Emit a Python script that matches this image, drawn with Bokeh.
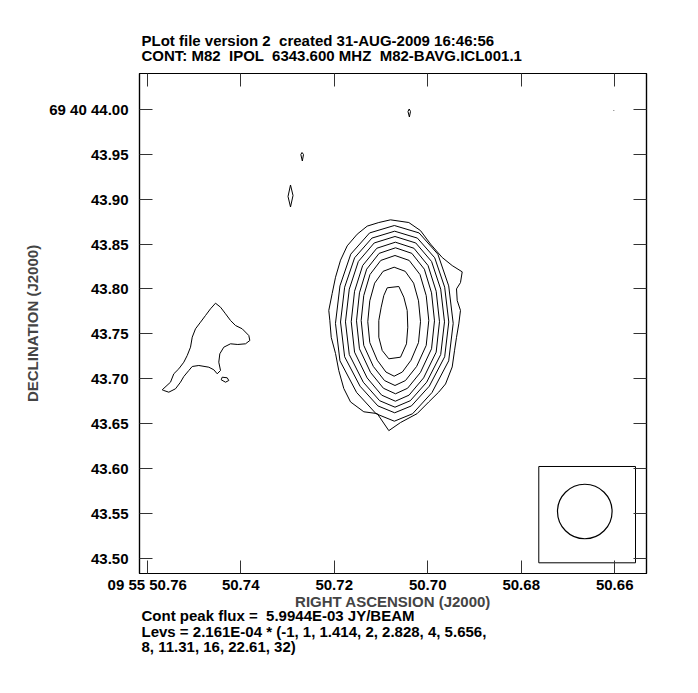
from bokeh.plotting import figure
from bokeh.models import Range1d, LinearAxis, FixedTicker, CustomJSTickFormatter, Title
from bokeh.embed import file_html
from bokeh.resources import INLINE

# ---------------- header / footer text values ----------------
PLOT_VERSION = 2
CREATED = "31-AUG-2009 16:46:56"
SOURCE = "M82"
STOKES = "IPOL"
FREQ_MHZ = 6343.600
IMAGE_NAME = "M82-BAVG.ICL001.1"
PEAK_FLUX = 5.9944E-03
BASE_LEVEL = 2.161E-04
LEVELS = [-1, 1, 1.414, 2, 2.828, 4, 5.656, 8, 11.31, 16, 22.61, 32]

# ---------------- axes (RA seconds of 09h55m, Dec arcsec of +69d40m) ----------------
RA_TICKS = [50.76, 50.74, 50.72, 50.70, 50.68, 50.66]
DEC_TICKS = [43.50, 43.55, 43.60, 43.65, 43.70, 43.75, 43.80, 43.85, 43.90, 43.95, 44.00]
RA_PREFIX = "09 55 "
DEC_PREFIX = "69 40 "
RA_RANGE = (50.76165, 50.65320)
DEC_RANGE = (43.48273, 44.04013)

# ---------------- contours (RA s, Dec arcsec) ----------------
ra_c1 = [50.71046, 50.70796, 50.70404, 50.70154, 50.69940, 50.69690, 50.69476, 50.69262, 50.69299, 50.69384,
         50.69369, 50.69299, 50.69335, 50.69384, 50.69427, 50.69476, 50.69619, 50.69763, 50.69977, 50.70225,
         50.70582, 50.70832, 50.71080, 50.71367, 50.71651, 50.71795, 50.71902, 50.71972, 50.72064, 50.72094,
         50.72116, 50.72043, 50.71972, 50.71865, 50.71722, 50.71508, 50.71294]
dec_c1 = [43.874, 43.877, 43.874, 43.865, 43.850, 43.835, 43.826, 43.819, 43.807, 43.800,
          43.787, 43.776, 43.761, 43.746, 43.731, 43.713, 43.694, 43.685, 43.674, 43.661,
          43.651, 43.642, 43.661, 43.663, 43.674, 43.689, 43.709, 43.728, 43.746, 43.765,
          43.776, 43.795, 43.813, 43.832, 43.848, 43.861, 43.870]

ra_c2 = [50.70714, 50.70185, 50.69783, 50.69551, 50.69455, 50.69551, 50.69908, 50.70324,
         50.70714, 50.71104, 50.71520, 50.71877, 50.71973, 50.71877, 50.71646, 50.71243]
dec_c2 = [43.87068, 43.86239, 43.83872, 43.80338, 43.76160, 43.71982, 43.68448, 43.66081,
          43.65252, 43.66081, 43.68448, 43.71982, 43.76160, 43.80338, 43.83872, 43.86239]

ra_c3 = [50.70707, 50.70221, 50.69850, 50.69637, 50.69549, 50.69637, 50.69966, 50.70348,
         50.70707, 50.71066, 50.71448, 50.71777, 50.71865, 50.71777, 50.71564, 50.71194]
dec_c3 = [43.86433, 43.85664, 43.83468, 43.80188, 43.76311, 43.72434, 43.69155, 43.66958,
          43.66189, 43.66958, 43.69155, 43.72434, 43.76311, 43.80188, 43.83468, 43.85664]

ra_c4 = [50.70700, 50.70255, 50.69917, 50.69722, 50.69641, 50.69722, 50.70022, 50.70372,
         50.70700, 50.71028, 50.71378, 50.71678, 50.71759, 50.71678, 50.71484, 50.71145]
dec_c4 = [43.85842, 43.85119, 43.83054, 43.79971, 43.76327, 43.72683, 43.69600, 43.67535,
          43.66812, 43.67535, 43.69600, 43.72683, 43.76327, 43.79971, 43.83054, 43.85119]

ra_c5 = [50.70692, 50.70295, 50.69993, 50.69819, 50.69748, 50.69819, 50.70088, 50.70399,
         50.70692, 50.70985, 50.71296, 50.71565, 50.71636, 50.71565, 50.71391, 50.71089]
dec_c5 = [43.85207, 43.84533, 43.82610, 43.79738, 43.76344, 43.72950, 43.70078, 43.68155,
          43.67481, 43.68155, 43.70078, 43.72950, 43.76344, 43.79738, 43.82610, 43.84533]

ra_c6 = [50.70689, 50.70339, 50.70072, 50.69918, 50.69855, 50.69918, 50.70155, 50.70430,
         50.70689, 50.70948, 50.71223, 50.71460, 50.71523, 50.71460, 50.71306, 50.71039]
dec_c6 = [43.84582, 43.83961, 43.82198, 43.79561, 43.76444, 43.73327, 43.70690, 43.68925,
          43.68306, 43.68925, 43.70690, 43.73327, 43.76444, 43.79561, 43.82198, 43.83961]

ra_c7 = [50.70700, 50.70396, 50.70165, 50.70032, 50.69977, 50.70032, 50.70237, 50.70476,
         50.70700, 50.70924, 50.71163, 50.71368, 50.71423, 50.71368, 50.71235, 50.71004]
dec_c7 = [43.83724, 43.83174, 43.81601, 43.79253, 43.76478, 43.73703, 43.71355, 43.69783,
          43.69232, 43.69783, 43.71355, 43.73703, 43.76478, 43.79253, 43.81601, 43.83174]

ra_c8 = [50.70718, 50.70481, 50.70301, 50.70197, 50.70154, 50.70197, 50.70357, 50.70543,
         50.70718, 50.70893, 50.71079, 50.71239, 50.71282, 50.71239, 50.71135, 50.70955]
dec_c8 = [43.82420, 43.81958, 43.80640, 43.78671, 43.76344, 43.74017, 43.72049, 43.70730,
          43.70268, 43.70730, 43.72049, 43.74017, 43.76344, 43.78671, 43.80640, 43.81958]

ra_c9 = [50.70866, 50.70618, 50.70511, 50.70439, 50.70426, 50.70454, 50.70582, 50.70832,
         50.70973, 50.71046, 50.71046, 50.70995, 50.70939]
dec_c9 = [43.80123, 43.80268, 43.79075, 43.77593, 43.75731, 43.73880, 43.72386, 43.72208,
          43.73133, 43.74616, 43.76478, 43.77960, 43.79265]

# western (left) component
ra_west = [50.75679, 50.75502, 50.75431, 50.75324, 50.75217, 50.75144, 50.75074, 50.75037, 50.74967, 50.74860,
           50.74753, 50.74646, 50.74539, 50.74432, 50.74325, 50.74218, 50.74111, 50.73968, 50.73827, 50.73805,
           50.73897, 50.74062, 50.74218, 50.74362, 50.74447, 50.74469, 50.74432, 50.74503, 50.74575, 50.74682,
           50.74896, 50.75037, 50.75110, 50.75217, 50.75288, 50.75395, 50.75538, 50.75645]
dec_west = [43.68752, 43.69599, 43.70536, 43.71093, 43.71829, 43.72576, 43.73501, 43.74616, 43.75552, 43.76288,
            43.77035, 43.77782, 43.78406, 43.77960, 43.77225, 43.76478, 43.75920, 43.75552, 43.74805, 43.74248,
            43.73880, 43.73802, 43.73880, 43.73501, 43.72765, 43.71829, 43.70904, 43.70536, 43.70982, 43.71272,
            43.71461, 43.71350, 43.70904, 43.70235, 43.69599, 43.68864, 43.68485, 43.68674]
ra_island = [50.74396, 50.74289, 50.74255, 50.74325, 50.74417]
dec_island = [43.70157, 43.70090, 43.69789, 43.69599, 43.69866]

# small noise features
ra_n1 = [50.72935, 50.72881, 50.72935, 50.72988]
dec_n1 = [43.91583, 43.90413, 43.89131, 43.90302]
ra_n2 = [50.72689, 50.72657, 50.72682, 50.72714]
dec_n2 = [43.95206, 43.94983, 43.94259, 43.94983]
ra_n3 = [50.70396, 50.70368, 50.70392, 50.70422]
dec_n3 = [44.00056, 43.99777, 43.99164, 43.99777]
ra_n4 = [50.66019, 50.66019]
dec_n4 = [43.99920, 43.99860]

# beam
BEAM_BOX_RA = (50.67624, 50.65555)
BEAM_BOX_DEC = (43.49466, 43.60202)
BEAM_RA = 50.66640
BEAM_DEC = 43.55185
BEAM_W_RA = 0.011679   # seconds of time
BEAM_H_DEC = 0.06087   # arcsec

FONT = "Liberation Sans"
FS = "15px"
SP2 = " \u00a0"   # double space that survives SVG whitespace collapsing

p = figure(width=690, height=685,
           x_range=Range1d(*RA_RANGE), y_range=Range1d(*DEC_RANGE),
           output_backend="svg", toolbar_location=None,
           min_border_left=139, min_border_right=44, min_border_top=73, min_border_bottom=112)
p.grid.visible = False
p.outline_line_color = "black"
p.outline_line_width = 1.2
p.background_fill_color = "white"
p.border_fill_color = "white"

def style_axis(ax, ticks, show_labels):
    ax.ticker = FixedTicker(ticks=ticks, minor_ticks=[])
    ax.major_tick_in = 13
    ax.major_tick_out = 0
    ax.minor_tick_in = 0
    ax.minor_tick_out = 0
    ax.major_tick_line_color = "#333333"
    ax.major_tick_line_width = 1
    ax.axis_line_color = "black"
    ax.axis_line_width = 1.2
    ax.major_label_text_font = FONT
    ax.major_label_text_font_size = FS
    ax.major_label_text_font_style = "bold"
    ax.major_label_text_color = "black"
    if not show_labels:
        ax.formatter = CustomJSTickFormatter(code="return '';")
        ax.major_label_standoff = 0

xb = p.xaxis[0]
style_axis(xb, RA_TICKS, True)
xb.formatter = CustomJSTickFormatter(args=dict(first=RA_TICKS[0], prefix=RA_PREFIX),
    code="const t = tick.toFixed(2); return Math.abs(tick - first) < 1e-6 ? prefix + t : t;")
xb.major_label_standoff = 2
xb.axis_label = "RIGHT ASCENSION (J2000)"
xb.axis_label_text_font = FONT
xb.axis_label_text_font_size = FS
xb.axis_label_text_font_style = "bold"
xb.axis_label_standoff = -3

yl = p.yaxis[0]
style_axis(yl, DEC_TICKS, True)
yl.formatter = CustomJSTickFormatter(args=dict(top=DEC_TICKS[-1], prefix=DEC_PREFIX),
    code="const t = tick.toFixed(2); return Math.abs(tick - top) < 1e-6 ? prefix + t : t;")
yl.major_label_standoff = 11
yl.axis_label = "DECLINATION (J2000)"
yl.axis_label_text_font = FONT
yl.axis_label_text_font_size = FS
yl.axis_label_text_font_style = "bold"
yl.axis_label_standoff = 5

xt = LinearAxis()
style_axis(xt, RA_TICKS, False)
p.add_layout(xt, "above")
yr = LinearAxis()
style_axis(yr, DEC_TICKS, False)
p.add_layout(yr, "right")

# contours
xs = [ra_c1, ra_c2, ra_c3, ra_c4, ra_c5, ra_c6, ra_c7, ra_c8, ra_c9, ra_west, ra_island, ra_n1, ra_n2, ra_n3]
ys = [dec_c1, dec_c2, dec_c3, dec_c4, dec_c5, dec_c6, dec_c7, dec_c8, dec_c9, dec_west, dec_island, dec_n1, dec_n2, dec_n3]
xs = [list(a) + [a[0]] for a in xs] + [ra_n4]
ys = [list(a) + [a[0]] for a in ys] + [dec_n4]
p.multi_line(xs=xs, ys=ys, line_color="black", line_width=1)

# beam
p.quad(left=[BEAM_BOX_RA[0]], right=[BEAM_BOX_RA[1]], bottom=[BEAM_BOX_DEC[0]], top=[BEAM_BOX_DEC[1]],
       fill_color=None, line_color="black", line_width=1)
p.ellipse(x=[BEAM_RA], y=[BEAM_DEC], width=[BEAM_W_RA], height=[BEAM_H_DEC],
          fill_color=None, line_color="black", line_width=1.2)

def make_title(txt, standoff, line_height=1.0):
    return Title(text=txt, align="left", offset=2, standoff=standoff,
                 text_font=FONT, text_font_size=FS, text_font_style="bold", text_color="black",
                 text_line_height=line_height)

header = (f"PLot file version {PLOT_VERSION}{SP2}created {CREATED}\n"
          f"CONT: {SOURCE}{SP2}{STOKES}{SP2}{FREQ_MHZ:.3f} MHZ{SP2}{IMAGE_NAME}")
p.add_layout(make_title(header, 19, 0.88), "above")

levs = [f"{v:g}" for v in LEVELS]
footer = (f"Cont peak flux ={SP2}{PEAK_FLUX:.4E} JY/BEAM\n"
          f"Levs = {BASE_LEVEL:.3E} * (" + ", ".join(levs[:7]) + ",\n"
          + ", ".join(levs[7:]) + ")")
p.add_layout(make_title(footer, -16, 0.94), "below")

open("out.html", "w").write(file_html(p, INLINE))
